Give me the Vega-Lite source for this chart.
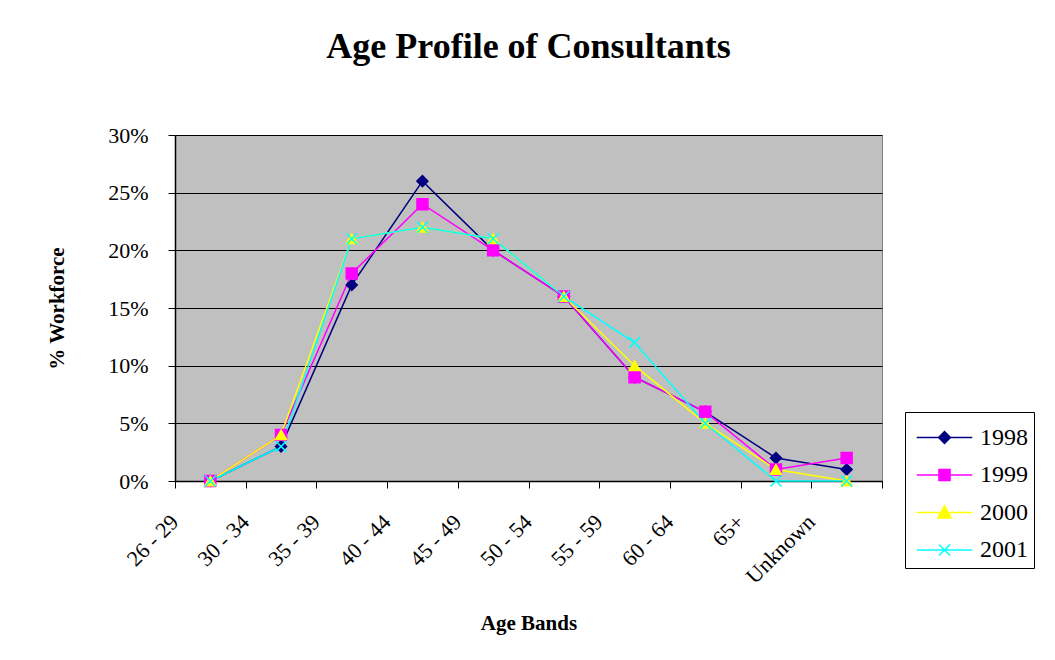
{
  "$schema": "https://vega.github.io/schema/vega-lite/v6.json",
  "width": 707,
  "height": 346,
  "autosize": {"type": "none"},
  "padding": {"left": 175, "top": 135, "right": 173, "bottom": 179},
  "background": "white",
  "title": {
    "text": "Age Profile of Consultants",
    "font": "Liberation Serif",
    "fontSize": 36,
    "fontWeight": "bold",
    "color": "black",
    "anchor": "middle",
    "frame": "group",
    "offset": 58
  },
  "data": {
    "values": [
      {"band": "26 - 29", "year": "1998", "pct": 0.00},
      {"band": "30 - 34", "year": "1998", "pct": 0.03},
      {"band": "35 - 39", "year": "1998", "pct": 0.17},
      {"band": "40 - 44", "year": "1998", "pct": 0.26},
      {"band": "45 - 49", "year": "1998", "pct": 0.20},
      {"band": "50 - 54", "year": "1998", "pct": 0.16},
      {"band": "55 - 59", "year": "1998", "pct": 0.09},
      {"band": "60 - 64", "year": "1998", "pct": 0.06},
      {"band": "65+", "year": "1998", "pct": 0.02},
      {"band": "Unknown", "year": "1998", "pct": 0.01},
      {"band": "26 - 29", "year": "1999", "pct": 0.00},
      {"band": "30 - 34", "year": "1999", "pct": 0.04},
      {"band": "35 - 39", "year": "1999", "pct": 0.18},
      {"band": "40 - 44", "year": "1999", "pct": 0.24},
      {"band": "45 - 49", "year": "1999", "pct": 0.20},
      {"band": "50 - 54", "year": "1999", "pct": 0.16},
      {"band": "55 - 59", "year": "1999", "pct": 0.09},
      {"band": "60 - 64", "year": "1999", "pct": 0.06},
      {"band": "65+", "year": "1999", "pct": 0.01},
      {"band": "Unknown", "year": "1999", "pct": 0.02},
      {"band": "26 - 29", "year": "2000", "pct": 0.00},
      {"band": "30 - 34", "year": "2000", "pct": 0.04},
      {"band": "35 - 39", "year": "2000", "pct": 0.21},
      {"band": "40 - 44", "year": "2000", "pct": 0.22},
      {"band": "45 - 49", "year": "2000", "pct": 0.21},
      {"band": "50 - 54", "year": "2000", "pct": 0.16},
      {"band": "55 - 59", "year": "2000", "pct": 0.10},
      {"band": "60 - 64", "year": "2000", "pct": 0.05},
      {"band": "65+", "year": "2000", "pct": 0.01},
      {"band": "Unknown", "year": "2000", "pct": 0.00},
      {"band": "26 - 29", "year": "2001", "pct": 0.00},
      {"band": "30 - 34", "year": "2001", "pct": 0.03},
      {"band": "35 - 39", "year": "2001", "pct": 0.21},
      {"band": "40 - 44", "year": "2001", "pct": 0.22},
      {"band": "45 - 49", "year": "2001", "pct": 0.21},
      {"band": "50 - 54", "year": "2001", "pct": 0.16},
      {"band": "55 - 59", "year": "2001", "pct": 0.12},
      {"band": "60 - 64", "year": "2001", "pct": 0.05},
      {"band": "65+", "year": "2001", "pct": 0.00},
      {"band": "Unknown", "year": "2001", "pct": 0.00}
    ]
  },
  "encoding": {
    "x": {
      "field": "band",
      "type": "ordinal",
      "sort": ["26 - 29", "30 - 34", "35 - 39", "40 - 44", "45 - 49", "50 - 54", "55 - 59", "60 - 64", "65+", "Unknown"],
      "scale": {"type": "band", "paddingInner": 0, "paddingOuter": 0},
      "axis": {
        "title": "Age Bands",
        "titleFont": "Liberation Serif",
        "titleFontSize": 21,
        "titleFontWeight": "bold",
        "titleColor": "black",
        "titleY": 148,
        "titleBaseline": "alphabetic",
        "labelAngle": -45,
        "labelAlign": "right",
        "labelBaseline": "top",
        "labelOffset": -43,
        "labelPadding": 23,
        "labelFont": "Liberation Serif",
        "labelFontSize": 22,
        "labelColor": "black",
        "tickBand": "extent",
        "tickSize": 7,
        "tickColor": "black",
        "domainColor": "black",
        "domainWidth": 1.5,
        "grid": false
      }
    },
    "y": {
      "field": "pct",
      "type": "quantitative",
      "scale": {"domain": [0, 0.3], "nice": false},
      "axis": {
        "title": "% Workforce",
        "titleFont": "Liberation Serif",
        "titleFontSize": 21,
        "titleFontWeight": "bold",
        "titleColor": "black",
        "titleX": -118,
        "titleBaseline": "middle",
        "values": [0, 0.05, 0.1, 0.15, 0.2, 0.25, 0.3],
        "format": ".0%",
        "labelFont": "Liberation Serif",
        "labelFontSize": 22,
        "labelColor": "black",
        "labelPadding": 20,
        "tickSize": 7,
        "tickColor": "black",
        "domainColor": "black",
        "domainWidth": 1.5,
        "grid": true,
        "gridColor": "black",
        "gridWidth": 1
      }
    },
    "color": {
      "field": "year",
      "type": "nominal",
      "scale": {"domain": ["1998", "1999", "2000", "2001"], "range": ["#000080", "#FF00FF", "#FFFF00", "#00FFFF"]},
      "legend": {
        "title": null,
        "orient": "none",
        "legendX": 730,
        "legendY": 277,
        "padding": 6,
        "strokeColor": "black",
        "fillColor": "white",
        "symbolSize": 1369,
        "symbolOffset": 14,
        "symbolStrokeWidth": 1.5,
        "rowPadding": 5.5,
        "labelOffset": 16,
        "labelFont": "Liberation Serif",
        "labelFontSize": 24,
        "labelColor": "black",
        "encode": {
          "symbols": {
            "update": {
              "shape": {"signal": "datum.value === '1998' ? 'M-1.5,0L1.5,0M0,-0.32L0.32,0L0,0.32L-0.32,0Z' : datum.value === '1999' ? 'M-1.5,0L1.5,0M-0.3,-0.3L0.3,-0.3L0.3,0.3L-0.3,0.3Z' : datum.value === '2000' ? 'M-1.5,0L1.5,0M0,-0.36L0.36,0.3L-0.36,0.3Z' : 'M-1.5,0L1.5,0M-0.3,-0.3L0.3,0.3M-0.3,0.3L0.3,-0.3'"},
              "fill": {"signal": "scale('color', datum.value)"},
              "stroke": {"signal": "scale('color', datum.value)"},
              "strokeWidth": {"value": 1.5},
              "opacity": {"value": 1}
            }
          }
        }
      }
    }
  },
  "layer": [
    {
      "mark": {"type": "line", "strokeWidth": 1.5}
    },
    {
      "mark": {"type": "point", "filled": true, "size": 120, "strokeWidth": 1.5, "opacity": 1},
      "encoding": {
        "shape": {
          "condition": [
            {"test": "datum.year === '1998'", "value": "diamond"},
            {"test": "datum.year === '1999'", "value": "square"},
            {"test": "datum.year === '2000'", "value": "triangle-up"}
          ],
          "value": "M-1,-1L1,1M-1,1L1,-1"
        },
        "stroke": {
          "condition": [
            {"test": "datum.year === '1998'", "value": "#000080"},
            {"test": "datum.year === '1999'", "value": "#FF00FF"},
            {"test": "datum.year === '2000'", "value": "#FFFF00"}
          ],
          "value": "#00FFFF"
        }
      }
    }
  ],
  "config": {
    "view": {"fill": "#C0C0C0", "stroke": "#808080", "strokeWidth": 1}
  }
}
